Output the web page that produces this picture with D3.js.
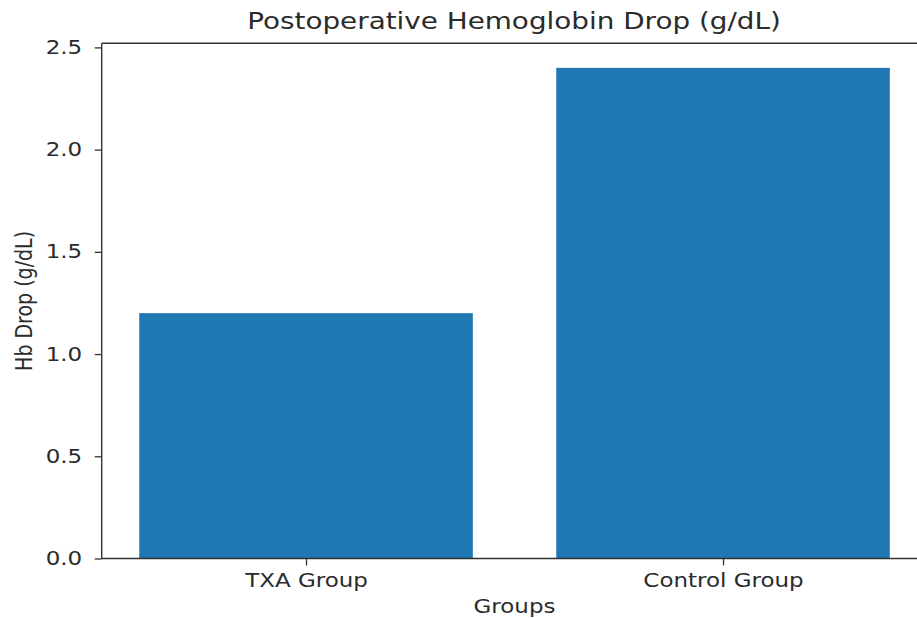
<!DOCTYPE html>
<html><head><meta charset="utf-8">
<script src="https://cdn.jsdelivr.net/npm/d3@7"></script>
<style>body{margin:0;background:#fff}svg{display:block}text{font-family:"DejaVu Sans",sans-serif;fill:#2b2b2b}</style>
</head><body><svg id="c" width="917" height="618"></svg>
<script>
(function(){
const categories = ["TXA Group", "Control Group"];
const values = [1.2, 2.4];
const yTicks = [0, 0.5, 1.0, 1.5, 2.0, 2.5];

const SX = 1.21; // horizontal stretch of the reference image
const svg = d3.select("#c");
const mLeft = 101.7, mTop = 43.3, mBottom = 558.5;
const unit = 417;
const x = d3.scaleLinear().domain([-0.49, 1.49]).range([mLeft, mLeft + 1.98 * unit]);
const y = d3.scaleLinear().domain([0, 2.52]).range([mBottom, mTop]);
const mRight = x(1.49);

svg.selectAll("rect.bar").data(values).join("rect")
  .attr("class", "bar")
  .attr("x", (d, i) => x(i - 0.4)).attr("width", x(0.4) - x(-0.4))
  .attr("y", d => y(d)).attr("height", d => y(0) - y(d))
  .attr("fill", "#1f77b4");

const sp = svg.append("g").attr("stroke", "#333").attr("stroke-width", 1.4).attr("fill", "none");
sp.append("line").attr("x1", mLeft).attr("x2", mLeft).attr("y1", mTop).attr("y2", mBottom);
sp.append("line").attr("x1", mLeft).attr("x2", mRight).attr("y1", mTop).attr("y2", mTop);
sp.append("line").attr("x1", mLeft).attr("x2", mRight).attr("y1", mBottom).attr("y2", mBottom);
sp.append("line").attr("x1", mRight).attr("x2", mRight).attr("y1", mTop).attr("y2", mBottom);

const ya = svg.append("g").attr("transform", `translate(${mLeft},0)`)
  .call(d3.axisLeft(y).tickValues(yTicks).tickFormat(d3.format(".1f")).tickSize(7).tickPadding(5));
ya.select(".domain").remove();
ya.selectAll("line").attr("stroke", "#333").attr("stroke-width", 1.3);
ya.selectAll("text").attr("font-size", 19).attr("fill", "#2b2b2b").style("font-family", "DejaVu Sans")
  .attr("x", -19.5 / SX).attr("transform", `scale(${SX},1)`);

const xa = svg.append("g").attr("transform", `translate(0,${mBottom})`)
  .call(d3.axisBottom(x).tickValues([0, 1]).tickFormat((d) => categories[d]).tickSize(7).tickPadding(5));
xa.select(".domain").remove();
xa.selectAll("line").attr("stroke", "#333").attr("stroke-width", 1.3);
xa.selectAll("text").attr("font-size", 19).attr("fill", "#2b2b2b").style("font-family", "DejaVu Sans")
  .attr("y", 29).attr("dy", 0).attr("transform", `scale(${SX},1)`);

svg.append("text").attr("transform", `translate(514,29) scale(${SX},1)`).attr("text-anchor", "middle")
  .attr("font-size", 23).text("Postoperative Hemoglobin Drop (g/dL)");
svg.append("text").attr("transform", `translate(${x(0.5)},613) scale(${SX},1)`).attr("text-anchor", "middle")
  .attr("font-size", 19).text("Groups");
svg.append("text").attr("transform", `translate(32,${(mTop + mBottom) / 2}) rotate(-90) scale(1,${SX})`)
  .attr("text-anchor", "middle").attr("font-size", 19).text("Hb Drop (g/dL)");
})();
</script></body></html>
